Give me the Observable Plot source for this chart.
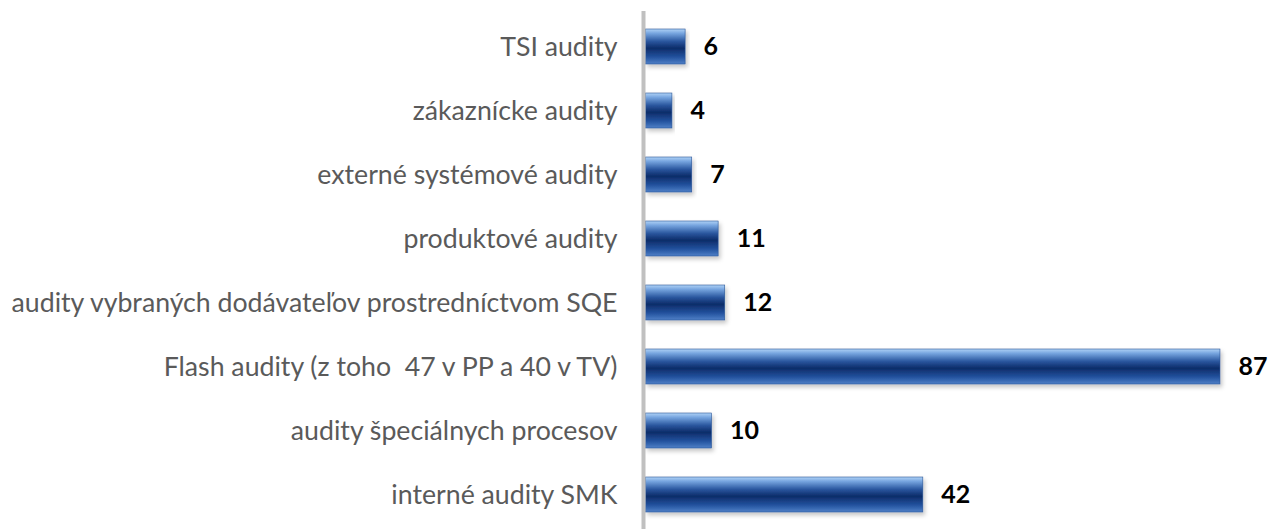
<!DOCTYPE html>
<html>
<head>
<meta charset="utf-8">
<script src="https://cdn.jsdelivr.net/npm/d3@7"></script>
<script src="https://cdn.jsdelivr.net/npm/@observablehq/plot@0.6"></script>
<style>
body { margin: 0; background: #fff; }
</style>
</head>
<body>
<div id="chart"></div>
<script>
const categories = [
  "TSI audity",
  "zákaznícke audity",
  "externé systémové audity",
  "produktové audity",
  "audity vybraných dodávateľov prostredníctvom SQE",
  "Flash audity (z toho  47 v PP a 40 v TV)",
  "audity špeciálnych procesov",
  "interné audity SMK"
];
const values = [6, 4, 7, 11, 12, 87, 10, 42];
const data = categories.map((c, i) => ({category: c, value: values[i]}));

const chart = Plot.plot({
  width: 1281,
  height: 529,
  marginLeft: 645,
  marginRight: 0,
  marginTop: 11,
  marginBottom: 0,
  style: {fontFamily: "Lato, 'Open Sans', sans-serif", background: "#fff", overflow: "visible"},
  x: {domain: [0, 96], range: [645.5, 1279.4], axis: null},
  y: {domain: categories, paddingInner: 0.46, paddingOuter: 0.23, label: null, axis: null},
  marks: [
    Plot.axisY({tickSize: 0, tickPadding: 28, fontSize: 26.7, color: "#5a5a5a", label: null}),
    Plot.barX(data, {x: "value", y: "category", fill: "url(#barGrad)", stroke: "#2a5596", strokeWidth: 0.6}),
    Plot.text(data, {x: "value", y: "category", text: d => String(d.value), dx: 18, textAnchor: "start", fontWeight: "bold", fontSize: 25, fill: "#000"}),
    Plot.ruleX([0], {dx: -2.5, stroke: "#c0c0c0", strokeWidth: 4})
  ]
});

const ns = "http://www.w3.org/2000/svg";
const defs = document.createElementNS(ns, "defs");
defs.innerHTML = `
<linearGradient id="barGrad" x1="0" y1="0" x2="0" y2="1">
  <stop offset="0" stop-color="#b0d2f6"/>
  <stop offset="0.12" stop-color="#78a6e0"/>
  <stop offset="0.35" stop-color="#2a579f"/>
  <stop offset="0.55" stop-color="#0d2c69"/>
  <stop offset="0.8" stop-color="#23529e"/>
  <stop offset="1" stop-color="#4f80c7"/>
</linearGradient>
<filter id="shadow" x="-5%" y="-20%" width="115%" height="160%">
  <feDropShadow dx="2" dy="3" stdDeviation="2" flood-color="#000" flood-opacity="0.22"/>
</filter>`;
chart.insertBefore(defs, chart.firstChild);
chart.querySelectorAll("g[aria-label='bar'] rect").forEach(r => r.setAttribute("filter", "url(#shadow)"));
document.getElementById("chart").appendChild(chart);
</script>
</body>
</html>
